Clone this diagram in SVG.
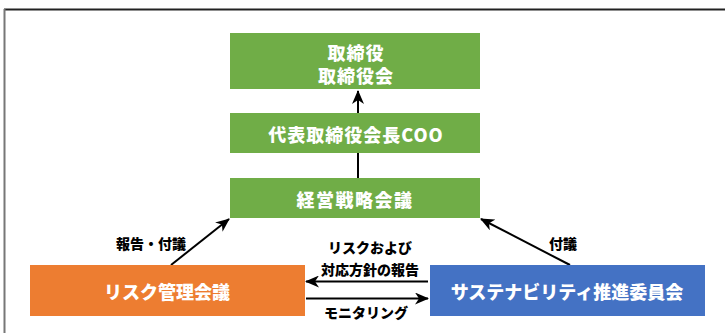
<svg xmlns="http://www.w3.org/2000/svg" width="725" height="333" viewBox="0 0 725 333">
<defs>
<style>
.box-g{fill:#70AD47}
.box-o{fill:#ED7D31}
.box-b{fill:#4472C4}
.bt{font-family:"Noto Sans CJK JP","Liberation Sans",sans-serif;font-weight:900;fill:#fff;font-size:18px;text-anchor:middle;dominant-baseline:central}
.lb{font-family:"Noto Sans CJK JP","Liberation Sans",sans-serif;font-weight:900;fill:#000;font-size:14px;text-anchor:middle;dominant-baseline:central}
.cn{stroke:#000;stroke-width:2;fill:none}
</style>
<marker id="ah" viewBox="0 0 14 12" refX="13" refY="6" markerWidth="14" markerHeight="12" markerUnits="userSpaceOnUse" orient="auto">
<path d="M0,0 L14,6 L0,12 L4,6 z" fill="#000"/>
</marker>
</defs>
<rect width="725" height="333" fill="#fff"/>
<line x1="4" y1="9.5" x2="725" y2="9.5" stroke="#222" stroke-width="2"/>
<line x1="4.5" y1="9" x2="4.5" y2="333" stroke="#777" stroke-width="2"/>
<g id="connectors">
<line class="cn" x1="358" y1="113" x2="358" y2="91" marker-end="url(#ah)"/>
<line class="cn" x1="358" y1="153" x2="358" y2="178"/>
<line class="cn" x1="171" y1="265" x2="229" y2="219" marker-end="url(#ah)"/>
<line class="cn" x1="570" y1="265" x2="481" y2="219" marker-end="url(#ah)"/>
<line class="cn" x1="428" y1="281.5" x2="306" y2="281.5" marker-end="url(#ah)"/>
<line class="cn" x1="306" y1="298.5" x2="428" y2="298.5" marker-end="url(#ah)"/>
<text class="lb" x="151" y="243">報告・付議</text>
<text class="lb" x="563" y="243">付議</text>
<text class="lb" x="370" y="247">リスクおよび</text>
<text class="lb" x="370" y="269">対応方針の報告</text>
<text class="lb" x="366" y="312">モニタリング</text>
</g>
<g id="board">
<rect class="box-g" x="230" y="33" width="250" height="56"/>
<text class="bt" x="356" y="51.5" letter-spacing="1">取締役</text>
<text class="bt" x="356" y="75" letter-spacing="1">取締役会</text>
</g>
<g id="chairman">
<rect class="box-g" x="230" y="113" width="250" height="40"/>
<text class="bt" x="356" y="133.5" letter-spacing="1">代表取締役会長COO</text>
</g>
<g id="strategy">
<rect class="box-g" x="230" y="178" width="250" height="40"/>
<text class="bt" x="355" y="198.5" letter-spacing="1.5">経営戦略会議</text>
</g>
<g id="risk">
<rect class="box-o" x="30" y="265" width="275" height="51"/>
<text class="bt" x="167" y="291">リスク管理会議</text>
</g>
<g id="sustainability">
<rect class="box-b" x="430" y="265" width="275" height="51"/>
<text class="bt" x="567" y="291">サステナビリティ推進委員会</text>
</g>
</svg>
